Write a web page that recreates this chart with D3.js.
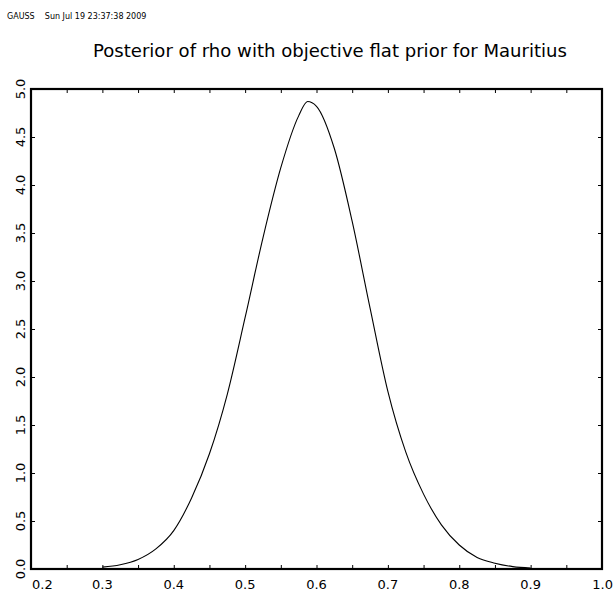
<!DOCTYPE html>
<html>
<head>
<meta charset="utf-8">
<script src="https://cdn.jsdelivr.net/npm/d3@7/dist/d3.min.js"></script>
<style>
  body { margin: 0; background: #fff; }
  text { font-family: "DejaVu Sans", sans-serif; fill: #000; }
</style>
</head>
<body>
<script>
// posterior density of rho
var rho = [0.300, 0.325, 0.350, 0.375, 0.400, 0.425, 0.450, 0.475, 0.500, 0.525, 0.550, 0.575, 0.5875,
           0.600, 0.625, 0.650, 0.675, 0.700, 0.725, 0.750, 0.775, 0.800, 0.825, 0.850, 0.875, 0.900];
var dens = [0.02, 0.045, 0.10, 0.21, 0.40, 0.74, 1.20, 1.82, 2.62, 3.45, 4.18, 4.72, 4.87,
            4.82, 4.38, 3.62, 2.72, 1.85, 1.22, 0.78, 0.46, 0.25, 0.12, 0.06, 0.025, 0.01];
var xTicks = [0.2, 0.3, 0.4, 0.5, 0.6, 0.7, 0.8, 0.9, 1.0];
var yTicks = [0.0, 0.5, 1.0, 1.5, 2.0, 2.5, 3.0, 3.5, 4.0, 4.5, 5.0];
var title = "Posterior of rho with objective flat prior for Mauritius";
var stamp = "GAUSS    Sun Jul 19 23:37:38 2009";

var w = 614, h = 594;
// plot box (don't call these top/left, they clash with window globals)
var pL = 31, pR = 602, pT = 89, pB = 569;

var svg = d3.select('body').append('svg')
  .attr('width', w)
  .attr('height', h);

var x = d3.scaleLinear().domain([0.2, 1.0]).range([pL, pR]);
var y = d3.scaleLinear().domain([0, 5]).range([pB, pT]);

// header + title
svg.append('text')
  .attr('x', 7).attr('y', 19)
  .attr('font-size', 8)
  .attr('xml:space', 'preserve')
  .text(stamp);

svg.append('text')
  .attr('x', 93).attr('y', 57)
  .attr('font-size', 17)
  .attr('textLength', 474)
  .attr('lengthAdjust', 'spacingAndGlyphs')
  .text(title);

// ticks every 0.05 on x, 0.5 on y, on all four sides
var xt = d3.range(0.25, 0.99, 0.05);
var yt = d3.range(0.5, 4.99, 0.5);

function noDomain(g){ g.select('.domain').remove(); }

svg.append('g').attr('transform', 'translate(0,' + pB + ')')
  .call(d3.axisTop(x).tickValues(xt).tickSize(4).tickFormat(''))
  .call(noDomain);
svg.append('g').attr('transform', 'translate(0,' + pT + ')')
  .call(d3.axisBottom(x).tickValues(xt).tickSize(4).tickFormat(''))
  .call(noDomain);
svg.append('g').attr('transform', 'translate(' + pL + ',0)')
  .call(d3.axisRight(y).tickValues(yt).tickSize(4).tickFormat(''))
  .call(noDomain);
svg.append('g').attr('transform', 'translate(' + pR + ',0)')
  .call(d3.axisLeft(y).tickValues(yt).tickSize(4).tickFormat(''))
  .call(noDomain);

svg.selectAll('.tick line').attr('stroke', '#000').attr('stroke-width', 1);

// frame
svg.append('rect')
  .attr('x', pL).attr('y', pT)
  .attr('width', pR - pL).attr('height', pB - pT)
  .attr('fill', 'none')
  .attr('stroke', '#000')
  .attr('stroke-width', 2.2);

// x labels
var nx = xTicks.length;
svg.selectAll('text.xl')
  .data(xTicks)
  .enter().append('text')
  .attr('class', 'xl')
  .attr('x', function(d, i){ return i == 0 ? x(d) + 1 : (i == nx - 1 ? w - 1 : x(d)); })
  .attr('y', 589)
  .attr('font-size', 13)
  .attr('text-anchor', function(d, i){ return i == 0 ? 'start' : (i == nx - 1 ? 'end' : 'middle'); })
  .text(function(d){ return d.toFixed(1); });

// y labels (rotated)
var ny = yTicks.length;
svg.selectAll('text.yl')
  .data(yTicks)
  .enter().append('text')
  .attr('class', 'yl')
  .attr('transform', function(d, i){
    var yy = y(d);
    if (i == 0) yy = Math.min(yy, h - 14);
    if (i == ny - 1) yy = Math.max(yy, 70);
    return 'translate(25,' + yy + ') rotate(-90)';
  })
  .attr('font-size', 13)
  .attr('text-anchor', 'middle')
  .text(function(d){ return d.toFixed(1); });

// curve
var line = d3.line()
  .x(function(d, i){ return x(rho[i]); })
  .y(function(d){ return y(d); })
  .curve(d3.curveMonotoneX);

svg.append('path')
  .datum(dens)
  .attr('d', line)
  .attr('fill', 'none')
  .attr('stroke', '#000')
  .attr('stroke-width', 1.1);
</script>
</body>
</html>
